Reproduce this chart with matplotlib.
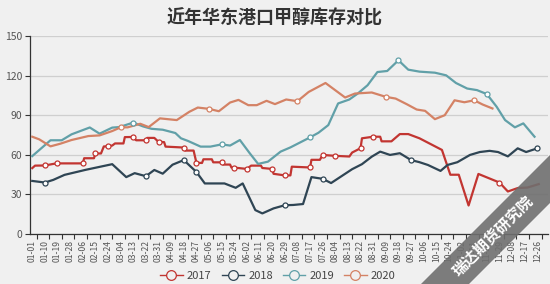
import matplotlib
matplotlib.use('Agg')
import matplotlib.pyplot as plt
from matplotlib.lines import Line2D
from matplotlib.patches import Polygon
import numpy as np
import pandas as pd

plt.rcParams['font.family'] = ['Noto Sans CJK SC', 'DejaVu Sans']

title = '近年华东港口甲醇库存对比'
years = ['2017', '2018', '2019', '2020']
colors = ['#c23531', '#2f4554', '#61a0a8', '#d48265']
watermark = '瑞达期货研究院'

# category axis: every day of a (leap) calendar year, labelled every 9 days
calendar = pd.date_range('2020-01-01', '2020-12-31', freq='D')
label_step = 9
y_ticks = [0, 30, 60, 90, 120, 150]

# day-of-year index (0 = 01-01) and inventory (10k t)
days_2017 = [0, 2, 9, 15, 18, 36, 37, 44, 45, 49, 51, 54, 57, 59, 65, 66, 72, 74, 81, 82,
             87, 90, 94, 95, 108, 109, 115, 117, 121, 122, 128, 129, 135, 136, 141, 142, 144,
             153, 156, 163, 164, 171, 172, 180, 184, 185, 198, 199, 205, 207, 216, 226, 228,
             234, 235, 243, 248, 249, 256, 262, 268, 276, 292, 298, 304, 311, 318, 333, 339,
             346, 353, 361]
vals_2017 = [49.9, 51.8, 51.9, 53.1, 53.5, 53.5, 57.4, 57.4, 61.0, 61.0, 66.3, 66.5, 67.0, 68.6,
             68.6, 73.4, 73.5, 71.0, 71.0, 72.8, 72.8, 69.8, 69.6, 66.2, 65.5, 63.2, 63.2, 54.0,
             53.8, 56.6, 56.6, 54.3, 54.3, 52.6, 52.6, 50.3, 50.3, 49.3, 51.8, 51.8, 50.0, 49.3,
             45.6, 44.4, 44.4, 51.0, 50.4, 56.2, 56.2, 59.9, 59.2, 58.7, 61.7, 65.0, 72.5, 73.7,
             73.7, 70.2, 70.2, 75.7, 75.7, 72.5, 63.7, 44.9, 44.9, 21.6, 45.5, 39.0, 32.2, 34.8,
             35.2, 37.8]

days_2018 = [0, 9, 15, 23, 38, 57, 67, 73, 81, 87, 93, 100, 108, 117, 123, 137, 145, 150, 159,
             164, 172, 180, 186, 193, 199, 207, 213, 228, 235, 242, 248, 255, 262, 270, 276, 282,
             291, 296, 303, 312, 319, 326, 332, 339, 346, 352, 360]
vals_2018 = [40.2, 39.0, 41.0, 44.8, 48.6, 52.9, 43.1, 46.1, 43.8, 48.5, 45.7, 52.5, 56.0, 47.0,
             38.3, 38.3, 35.0, 38.3, 18.1, 15.6, 19.4, 21.8, 22.0, 22.7, 43.1, 41.8, 38.6, 49.1,
             52.9, 58.6, 62.4, 59.9, 61.2, 56.0, 54.4, 52.3, 47.8, 52.3, 54.4, 59.9, 62.1, 63.0,
             62.1, 58.8, 64.9, 62.1, 64.9]

days_2019 = [0, 13, 21, 28, 41, 48, 57, 62, 72, 79, 85, 93, 102, 106, 111, 120, 127, 135, 141,
             148, 155, 161, 168, 177, 184, 198, 204, 211, 218, 226, 232, 239, 246, 253, 261, 268,
             276, 287, 295, 302, 310, 317, 324, 331, 337, 344, 350, 358]
vals_2019 = [59.0, 71.0, 71.0, 75.5, 80.7, 76.0, 80.6, 81.0, 84.4, 81.5, 79.7, 79.0, 76.5, 72.5,
             70.5, 66.2, 66.2, 67.9, 67.0, 71.2, 61.2, 53.1, 54.8, 62.4, 65.6, 73.2, 76.7, 82.5,
             98.9, 101.9, 106.4, 112.7, 122.7, 123.5, 131.6, 124.5, 123.0, 122.2, 120.2, 114.4,
             110.2, 109.0, 106.0, 96.4, 86.3, 80.8, 83.8, 73.7]

days_2020 = [0, 5, 13, 20, 28, 40, 48, 57, 63, 68, 77, 83, 91, 103, 112, 118, 126, 133, 141, 147,
             154, 160, 167, 173, 181, 189, 197, 209, 223, 230, 242, 252, 259, 267, 274, 280, 287,
             294, 301, 308, 315, 321, 328]
vals_2020 = [73.7, 71.7, 66.4, 68.4, 71.2, 74.2, 74.7, 78.0, 80.8, 80.8, 83.5, 81.0, 87.6, 86.3,
             92.6, 95.8, 94.8, 93.0, 99.6, 101.6, 97.6, 97.6, 100.9, 98.4, 101.9, 100.6, 107.6,
             114.4, 103.4, 106.4, 107.2, 103.9, 102.6, 98.3, 94.3, 93.3, 87.0, 90.0, 101.3, 99.8,
             101.3, 98.1, 95.1]

series_days = [days_2017, days_2018, days_2019, days_2020]
series_vals = [vals_2017, vals_2018, vals_2019, vals_2020]

bg = '#f0f0f0'
W, H = 550, 284
fig = plt.figure(figsize=(W / 100, H / 100), dpi=100, facecolor=bg)
ax = fig.add_axes([30 / W, (H - 234) / H, (548 - 30) / W, (234 - 36) / H], facecolor=bg)

for days, vals, col in zip(series_days, series_vals, colors):
    d = np.array(days)
    v = np.array(vals)
    ax.plot(d, v, color=col, lw=1.6, solid_joinstyle='round', zorder=3)
    m = (d % label_step == 0) & (d > 0)
    ax.plot(d[m], v[m], 'o', ms=3.6, mfc='white', mec=col, mew=0.9, zorder=4)

ax.set_xlim(-1.6, 367.6)
ax.set_ylim(0, 150)

label_pos = np.arange(0, len(calendar), label_step)
ax.set_xticks(label_pos)
ax.set_xticklabels(calendar[label_pos].strftime('%m-%d'), rotation=90, fontsize=6.2, color='#555')
ax.set_xticks(label_pos + 3.1, minor=True)
ax.tick_params(axis='x', which='major', length=0, pad=4)
ax.tick_params(axis='x', which='minor', length=3.5, color='#333', width=0.8)

ax.set_yticks(y_ticks)
ax.set_yticklabels([str(t) for t in y_ticks], fontsize=7.5, color='#555')
ax.tick_params(axis='y', length=3.5, color='#333', width=0.8, pad=2)
ax.grid(axis='y', color='#cfcfcf', lw=0.9)
ax.set_axisbelow(True)

for s in ['top', 'right']:
    ax.spines[s].set_visible(False)
for s in ['left', 'bottom']:
    ax.spines[s].set_color('#333')
    ax.spines[s].set_linewidth(0.9)

fig.text(0.5, (H - 18) / H, title, ha='center', va='center', fontsize=13,
         fontweight='bold', color='#333')

handles = [Line2D([0], [0], color=c, lw=1.0, marker='o', ms=7, mfc=bg, mec=c, mew=0.9)
           for c in colors]
fig.legend(handles, years, loc='center', bbox_to_anchor=(278 / W, (H - 276) / H), ncol=4,
           frameon=False, fontsize=8, handlelength=2.0, handletextpad=0.4,
           columnspacing=0.9, labelcolor='#444')

# diagonal watermark band
def fc(px, py):
    return (px / W, (H - py) / H)

hw = 12
p1 = (405, 324)
p2 = (605, 124)
band = [fc(p1[0] - hw, p1[1] - hw), fc(p2[0] - hw, p2[1] - hw),
        fc(p2[0] + hw, p2[1] + hw), fc(p1[0] + hw, p1[1] + hw)]
fig.add_artist(Polygon(band, closed=True, transform=fig.transFigure,
                       facecolor='#6f6f6f', edgecolor='none', alpha=0.9, zorder=10))
fig.text(493 / W, (H - 236) / H, watermark, rotation=45, ha='center', va='center',
         rotation_mode='anchor', fontsize=11, fontweight='bold', color='white', zorder=11)

fig.savefig('out.png', dpi=100, facecolor=bg)
